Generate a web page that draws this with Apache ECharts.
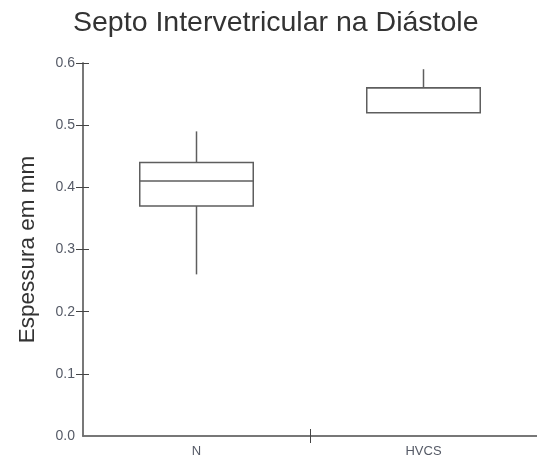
<!DOCTYPE html>
<html>
<head>
<meta charset="utf-8">
<script src="https://cdn.jsdelivr.net/npm/echarts@6/dist/echarts.min.js"></script>
<style>
  html, body { margin: 0; padding: 0; background: #fff; }
  #chart { width: 537px; height: 458px; }
</style>
</head>
<body>
<div id="chart"></div>
<script>
// Groups and their five-number summaries (mm)
const categories = ['N', 'HVCS'];
const whiskerLow = [0.26, 0.52];
const quartile1 = [0.37, 0.52];
const medians = [0.41, 0.56];
const quartile3 = [0.44, 0.56];
const whiskerHigh = [0.49, 0.59];
const yTicks = [0.1, 0.2, 0.3, 0.4, 0.5, 0.6];

const boxData = categories.map((c, i) => [
  i + 0.5, whiskerLow[i], quartile1[i], medians[i], quartile3[i], whiskerHigh[i]
]);

const axisColor = '#6f6f6f';
const boxColor = '#5e5e5e';
const labelColor = '#555a66';
const font = 'Liberation Sans, Arial, sans-serif';

const chart = echarts.init(document.getElementById('chart'), null, { renderer: 'canvas' });

function renderBox(params, api) {
  const x = api.value(0);
  const lo = api.coord([x, api.value(1)]);
  const q1 = api.coord([x, api.value(2)]);
  const md = api.coord([x, api.value(3)]);
  const q3 = api.coord([x, api.value(4)]);
  const hi = api.coord([x, api.value(5)]);
  const half = api.size([0.5, 0])[0] / 2;
  const style = { stroke: boxColor, lineWidth: 1.5, fill: null };
  const children = [];
  if (hi[1] < q3[1]) {
    children.push({ type: 'line', shape: { x1: q3[0], y1: q3[1], x2: hi[0], y2: hi[1] }, style });
  }
  if (lo[1] > q1[1]) {
    children.push({ type: 'line', shape: { x1: q1[0], y1: q1[1], x2: lo[0], y2: lo[1] }, style });
  }
  children.push({
    type: 'rect',
    shape: { x: q3[0] - half, y: q3[1], width: half * 2, height: q1[1] - q3[1] },
    style: { stroke: boxColor, lineWidth: 1.5, fill: '#fff' }
  });
  children.push({ type: 'line', shape: { x1: md[0] - half, y1: md[1], x2: md[0] + half, y2: md[1] }, style });
  return { type: 'group', children };
}

const xBase = {
  type: 'value', min: 0, max: 2, gridIndex: 0, position: 'bottom',
  splitLine: { show: false },
  axisLine: { show: true, lineStyle: { color: axisColor, width: 1.5 } }
};
const yBase = {
  type: 'value', min: 0, max: 0.6, interval: 0.1, gridIndex: 0, position: 'left',
  splitLine: { show: false },
  axisLine: { show: true, lineStyle: { color: axisColor, width: 1.5 } }
};

chart.setOption({
  animation: false,
  backgroundColor: '#fff',
  title: {
    text: 'Septo Intervetricular na Diástole',
    left: 68, top: 4,
    textStyle: { fontFamily: font, fontSize: 28.5, fontWeight: 'normal', color: '#333' }
  },
  grid: { left: 83, right: -2, top: 63, bottom: 22, containLabel: false },
  xAxis: [
    Object.assign({}, xBase, {
      axisTick: { show: true, inside: false, length: 7, customValues: [1], lineStyle: { color: '#444', width: 1 } },
      axisLabel: {
        show: true, customValues: [0.5, 1.5], margin: 9,
        formatter: v => categories[Math.floor(v)] || '',
        color: labelColor, fontSize: 13, fontFamily: font
      }
    }),
    Object.assign({}, xBase, {
      axisTick: { show: true, inside: true, length: 7, customValues: [1], lineStyle: { color: '#444', width: 1 } },
      axisLabel: { show: false }
    })
  ],
  yAxis: [
    Object.assign({}, yBase, {
      name: 'Espessura em mm',
      nameLocation: 'middle',
      nameGap: 44,
      nameTextStyle: { fontFamily: font, fontSize: 22.5, color: '#333' },
      axisTick: { show: true, inside: false, length: 7, customValues: yTicks, lineStyle: { color: '#444', width: 1 } },
      axisLabel: {
        show: true, margin: 8,
        formatter: v => v.toFixed(1),
        color: labelColor, fontSize: 14, fontFamily: font
      }
    }),
    Object.assign({}, yBase, {
      axisTick: { show: true, inside: true, length: 6, customValues: yTicks, lineStyle: { color: '#444', width: 1 } },
      axisLabel: { show: false }
    })
  ],
  series: [{
    type: 'custom',
    xAxisIndex: 0,
    yAxisIndex: 0,
    renderItem: renderBox,
    encode: { x: 0, y: [1, 2, 3, 4, 5] },
    data: boxData,
    clip: false
  }]
});
</script>
</body>
</html>
